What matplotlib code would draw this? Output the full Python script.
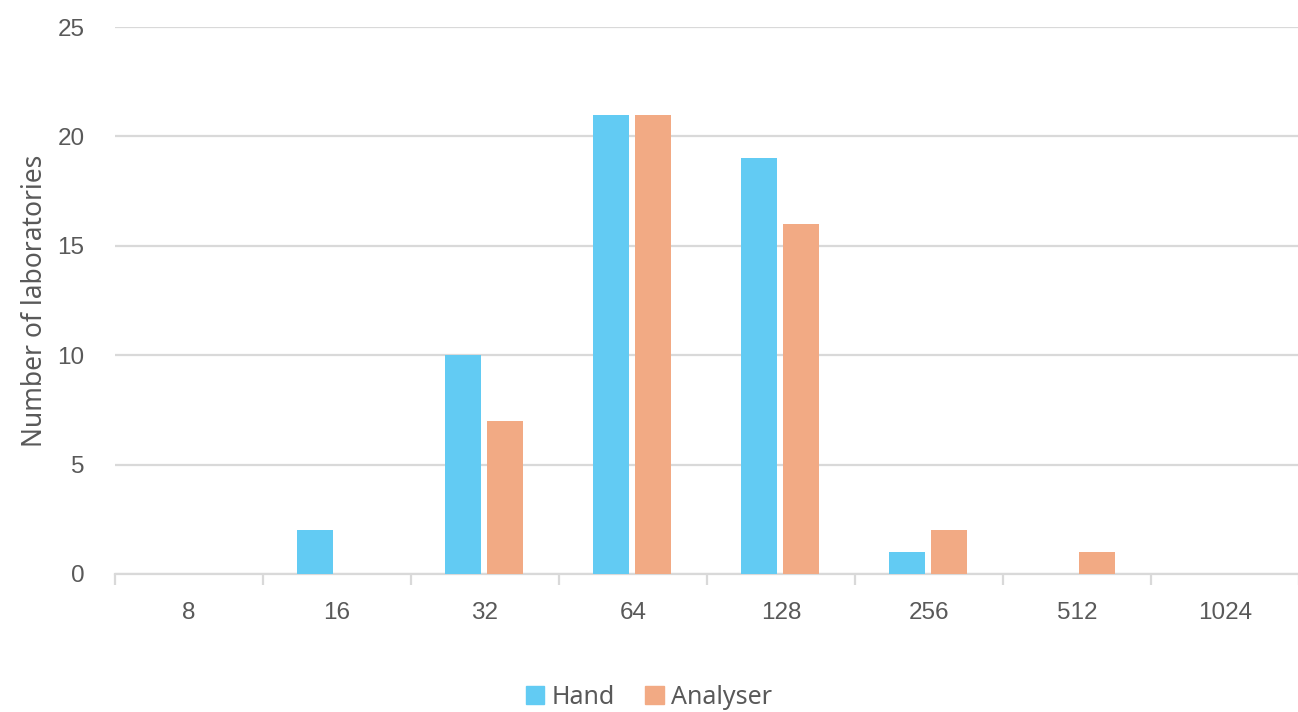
import numpy as np
import matplotlib
matplotlib.use('Agg')
import matplotlib.pyplot as plt
from matplotlib.patches import Patch

# dilution categories and lab counts per method
categories = ['8', '16', '32', '64', '128', '256', '512', '1024']
hand = [0, 2, 10, 21, 19, 1, 0, 0]
analyser = [0, 0, 7, 21, 16, 2, 1, 0]

c_hand = '#62CBF3'
c_anal = '#F2AA84'
grey = '#595959'
gridc = '#D9D9D9'

fig = plt.figure(figsize=(12.98, 7.12), dpi=100)
ax = fig.add_axes([0.0886, 0.194, 0.912, 0.768])

x = np.arange(len(categories))
w = 0.243
ax.bar(x - 0.149, hand, w, color=c_hand, zorder=3)
ax.bar(x + 0.135, analyser, w, color=c_anal, zorder=3)

ax.set_xlim(-0.5, len(categories) - 0.5)
ax.set_ylim(0, 25)
ax.set_yticks(np.arange(0, 26, 5))
ax.yaxis.grid(True, color=gridc, lw=1.6, zorder=0)
ax.set_axisbelow(True)

for s in ['top', 'right', 'left']:
    ax.spines[s].set_visible(False)
ax.spines['bottom'].set_color(gridc)
ax.spines['bottom'].set_linewidth(1.6)

ax.set_xticks(x)
ax.set_xticklabels(categories)
ax.set_xticks(np.arange(-0.5, len(categories) + 0.5, 1), minor=True)
ax.tick_params(axis='x', which='major', length=0, pad=20, labelsize=17.5, labelcolor=grey)
ax.tick_params(axis='x', which='minor', length=8, width=1.6, color=gridc)
ax.tick_params(axis='y', length=0, pad=22, labelsize=17.5, labelcolor=grey)
for lab in ax.get_xticklabels() + ax.get_yticklabels():
    lab.set_family('Liberation Sans')

ax.set_ylabel('Number of laboratories', fontsize=19, color=grey, family='Noto Sans', labelpad=6)

handles = [Patch(color=c_hand, label='Hand'), Patch(color=c_anal, label='Analyser')]
fig.legend(handles=handles, loc='center', bbox_to_anchor=(0.5, 0.021), ncol=2, frameon=False,
           prop={'family': 'Noto Sans', 'size': 18}, labelcolor=grey,
           handlelength=0.75, handleheight=0.75, handletextpad=0.3, columnspacing=1.2)

fig.savefig('out.png', dpi=100)
